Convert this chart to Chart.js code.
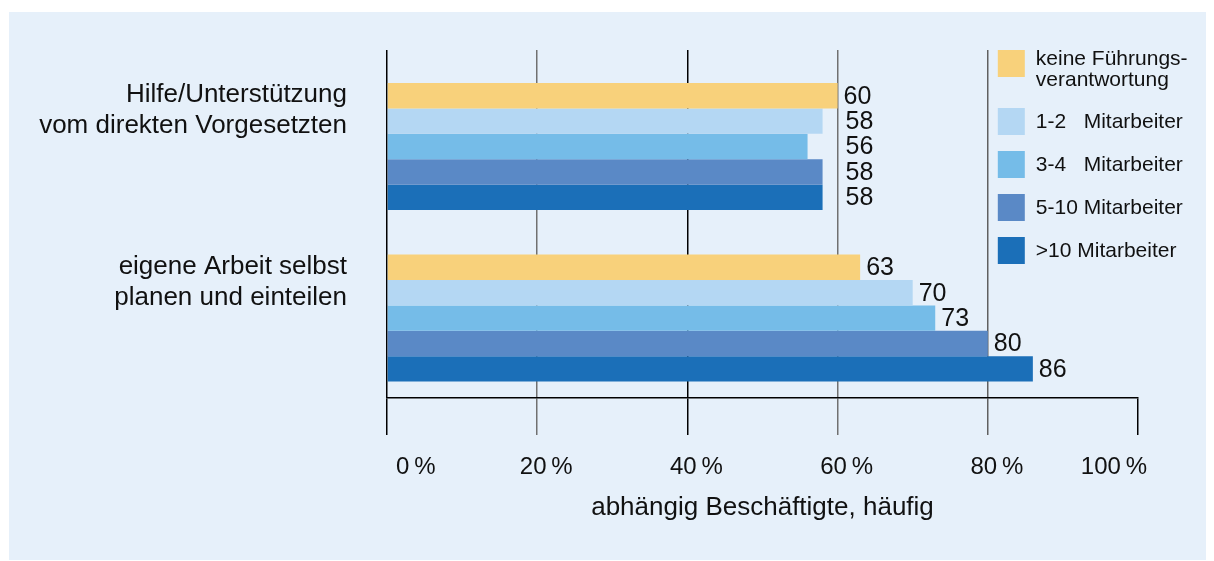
<!DOCTYPE html>
<html>
<head>
<meta charset="utf-8">
<script src="https://cdn.jsdelivr.net/npm/chart.js@4.4.0/dist/chart.umd.min.js"></script>
<style>
  html, body { margin: 0; padding: 0; background: #fff; }
  #panel { position: absolute; left: 9px; top: 12px; width: 1197px; height: 548px; background: #e6f0fa; }
  #wrap { position: absolute; left: 0; top: 0; width: 1214px; height: 561px; }
</style>
</head>
<body>
<div id="panel"></div>
<div id="wrap"><canvas id="myChart"></canvas></div>
<script>
// data
const categories = [
  ["Hilfe/Unterstützung", "vom direkten Vorgesetzten"],
  ["eigene Arbeit selbst", "planen und einteilen"]
];
const seriesNames = [["keine Führungs-", "verantwortung"], "1-2   Mitarbeiter", "3-4   Mitarbeiter", "5-10 Mitarbeiter", ">10 Mitarbeiter"];
const keineFuehrung = [60, 63];
const mitarbeiter1bis2 = [58, 70];
const mitarbeiter3bis4 = [56, 73];
const mitarbeiter5bis10 = [58, 80];
const mitarbeiterUeber10 = [58, 86];
const xTicks = [0, 20, 40, 60, 80, 100];
const xTitle = "abhängig Beschäftigte, häufig";

const colors = ['#f8d17b', '#b4d7f3', '#75bce8', '#5a89c6', '#1b6fb8'];
const gridColors = ['#000', '#707070', '#000', '#707070', '#606060', '#000'];
const FONT = '"Liberation Sans", Arial, sans-serif';
Chart.defaults.font.family = FONT;
Chart.defaults.color = '#111';

const series = [keineFuehrung, mitarbeiter1bis2, mitarbeiter3bis4, mitarbeiter5bis10, mitarbeiterUeber10];

// y range chosen so the two groups sit where they do in the original
const Y_MIN = -0.563, Y_MAX = 1.466;

// numbers at the end of the bars, moved off a grid line if they would cross it
const valueLabels = {
  id: 'valueLabels',
  afterDatasetsDraw(chart) {
    const ctx = chart.ctx;
    const xs = chart.scales.x;
    const lines = xTicks.slice(1, -1).map(v => xs.getPixelForValue(v));
    ctx.save();
    ctx.font = '25px ' + FONT;
    ctx.fillStyle = '#111';
    ctx.textBaseline = 'middle';
    chart.data.datasets.forEach((ds, i) => {
      chart.getDatasetMeta(i).data.forEach((bar, j) => {
        const txt = String(ds.data[j].x);
        const w = ctx.measureText(txt).width;
        let x = bar.x + 6;
        lines.forEach(g => { if (x < g + 2 && x + w > g - 2) x = g + 8; });
        ctx.fillText(txt, x, bar.y + 1);
      });
    });
    ctx.restore();
  }
};

// legend inside the plot, right of the 80 % line
const sideLegend = {
  id: 'sideLegend',
  afterDraw(chart) {
    const ctx = chart.ctx;
    const left = chart.scales.x.getPixelForValue(80) + 10;
    let top = chart.chartArea.top;
    ctx.save();
    ctx.font = '21px ' + FONT;
    ctx.textBaseline = 'middle';
    seriesNames.forEach((name, i) => {
      const rows = Array.isArray(name) ? name : [name];
      ctx.fillStyle = colors[i];
      ctx.fillRect(left, top, 27, 27);
      ctx.fillStyle = '#111';
      if (rows.length === 1) ctx.fillText(rows[0], left + 38, top + 14);
      else rows.forEach((r, k) => ctx.fillText(r, left + 38, top + 9 + 21 * k));
      top += 43 + 15 * (rows.length - 1);
    });
    ctx.restore();
  }
};

new Chart(document.getElementById('myChart'), {
  type: 'bar',
  data: {
    datasets: series.map((vals, i) => ({
      label: Array.isArray(seriesNames[i]) ? seriesNames[i].join('') : seriesNames[i],
      data: vals.map((v, k) => ({ x: v, y: k })),
      backgroundColor: colors[i],
      borderWidth: 0,
      categoryPercentage: 0.74,
      barPercentage: 1
    }))
  },
  options: {
    indexAxis: 'y',
    responsive: true,
    maintainAspectRatio: false,
    animation: false,
    devicePixelRatio: 1,
    layout: { padding: { left: 0, top: 50, right: 76, bottom: 0 } },
    plugins: { legend: { display: false }, tooltip: { enabled: false } },
    scales: {
      x: {
        type: 'linear',
        position: 'bottom',
        min: 0,
        max: 100,
        afterFit: s => { s.height = 163; },
        afterBuildTicks: s => { s.ticks = xTicks.map(v => ({ value: v })); },
        ticks: {
          callback: v => v + '\u2009%',
          font: { size: 24 },
          padding: 18,
          labelOffset: 9,
          align: 'inner',
          maxRotation: 0,
          autoSkip: false
        },
        grid: {
          color: c => (c.tick && c.tick.value === 100) ? 'rgba(0,0,0,0)' : gridColors[c.index],
          tickColor: c => gridColors[c.index],
          lineWidth: 1.5,
          tickLength: 37
        },
        border: { display: true, color: '#000', width: 1.5 },
        title: {
          display: true,
          text: xTitle,
          font: { size: 26 },
          padding: { top: 0, bottom: 38 }
        }
      },
      y: {
        type: 'linear',
        reverse: true,
        bounds: 'data',
        offset: false,
        min: Y_MIN,
        max: Y_MAX,
        afterDataLimits: s => { s.min = Y_MIN; s.max = Y_MAX; },
        afterBuildTicks: s => { s.min = Y_MIN; s.max = Y_MAX; s.ticks = categories.map((c, i) => ({ value: i })); },
        afterFit: s => { s.width = 387; s.paddingTop = 0; s.paddingBottom = 0; },
        ticks: {
          callback: v => categories[v],
          font: { size: 26, lineHeight: 1.18 },
          padding: 40,
          labelOffset: -36
        },
        grid: { display: false, drawTicks: false, tickLength: 0 },
        border: { display: false }
      }
    }
  },
  plugins: [valueLabels, sideLegend]
});
</script>
</body>
</html>
